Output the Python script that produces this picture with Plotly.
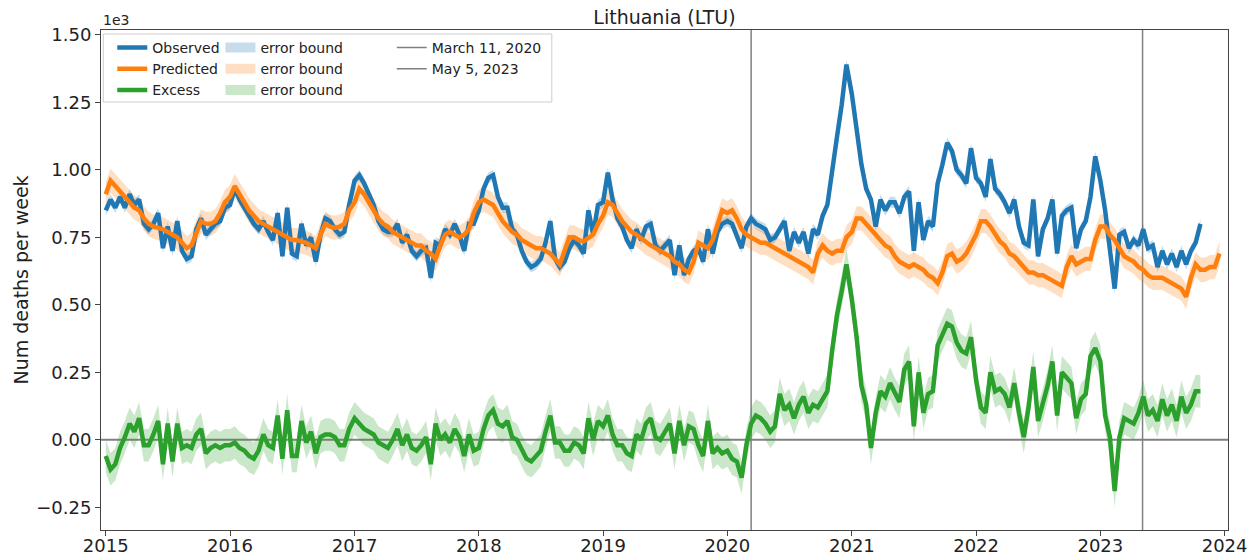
import pandas as pd
import plotly.graph_objects as go

# ---------------- data (deaths per week, in thousands) ----------------
YEARS = list(range(2015, 2024))
SAMPLES_PER_YEAR = 26          # one reading every two weeks
SAMPLE_STEP_DAYS = 14

observed = [
    0.85, 0.89, 0.86, 0.90, 0.86, 0.91, 0.87, 0.89, 0.80, 0.78, 0.80, 0.84, 0.71, 0.79, 0.70, 0.81, 0.70, 0.67, 0.68, 0.78, 0.82, 0.76, 0.78, 0.80, 0.81, 0.86,  # 2015
    0.87, 0.93, 0.89, 0.86, 0.83, 0.80, 0.78, 0.81, 0.77, 0.74, 0.84, 0.68, 0.86, 0.69, 0.68, 0.80, 0.72, 0.75, 0.66, 0.76, 0.82, 0.81, 0.78, 0.76, 0.77, 0.87,  # 2016
    0.96, 0.98, 0.95, 0.91, 0.87, 0.81, 0.78, 0.77, 0.77, 0.80, 0.73, 0.76, 0.70, 0.68, 0.70, 0.71, 0.60, 0.73, 0.72, 0.78, 0.76, 0.80, 0.76, 0.70, 0.80, 0.80,  # 2017
    0.85, 0.93, 0.97, 0.98, 0.90, 0.86, 0.86, 0.78, 0.76, 0.70, 0.66, 0.64, 0.65, 0.67, 0.73, 0.81, 0.67, 0.64, 0.66, 0.71, 0.74, 0.72, 0.69, 0.85, 0.76, 0.87,  # 2018
    0.88, 0.99, 0.89, 0.82, 0.79, 0.74, 0.71, 0.78, 0.74, 0.79, 0.80, 0.72, 0.70, 0.72, 0.74, 0.61, 0.72, 0.61, 0.67, 0.70, 0.71, 0.66, 0.78, 0.69, 0.77, 0.80,  # 2019
    0.81, 0.80, 0.76, 0.71, 0.79, 0.82, 0.80, 0.79, 0.78, 0.74, 0.75, 0.78, 0.81, 0.70, 0.77, 0.73, 0.77, 0.69, 0.78, 0.76, 0.83, 0.87, 1.01, 1.12, 1.24, 1.39,  # 2020
    1.28, 1.15, 1.02, 0.93, 0.89, 0.79, 0.89, 0.85, 0.88, 0.88, 0.84, 0.90, 0.92, 0.70, 0.88, 0.74, 0.81, 0.79, 0.95, 1.02, 1.10, 1.07, 1.00, 0.98, 0.95, 1.08,  # 2021
    0.97, 0.95, 0.90, 1.04, 0.93, 0.91, 0.88, 0.84, 0.89, 0.79, 0.73, 0.72, 0.89, 0.68, 0.78, 0.82, 0.89, 0.69, 0.83, 0.85, 0.86, 0.71, 0.78, 0.81, 0.90, 1.05,  # 2022
    0.96, 0.85, 0.72, 0.56, 0.76, 0.77, 0.71, 0.74, 0.72, 0.78, 0.71, 0.72, 0.64, 0.70, 0.65, 0.69, 0.64, 0.70, 0.65, 0.70, 0.73, 0.80, None, None, None, None,  # 2023
]

predicted = [
    0.91, 0.96, 0.94, 0.92, 0.90, 0.88, 0.86, 0.85, 0.82, 0.80, 0.79, 0.785, 0.78, 0.77, 0.76, 0.75, 0.73, 0.71, 0.72, 0.77, 0.81, 0.80, 0.80, 0.81, 0.84, 0.88,  # 2015
    0.90, 0.94, 0.91, 0.88, 0.85, 0.83, 0.81, 0.80, 0.79, 0.78, 0.77, 0.76, 0.75, 0.74, 0.74, 0.735, 0.73, 0.72, 0.71, 0.76, 0.80, 0.79, 0.785, 0.79, 0.80, 0.85,  # 2016
    0.88, 0.93, 0.91, 0.88, 0.85, 0.82, 0.80, 0.79, 0.77, 0.76, 0.75, 0.74, 0.73, 0.72, 0.72, 0.70, 0.69, 0.67, 0.72, 0.76, 0.77, 0.76, 0.75, 0.76, 0.78, 0.84,  # 2017
    0.88, 0.89, 0.88, 0.87, 0.84, 0.81, 0.79, 0.77, 0.76, 0.74, 0.73, 0.72, 0.71, 0.71, 0.70, 0.69, 0.67, 0.65, 0.70, 0.75, 0.75, 0.74, 0.735, 0.75, 0.76, 0.80,  # 2018
    0.83, 0.88, 0.87, 0.84, 0.81, 0.79, 0.77, 0.76, 0.745, 0.73, 0.72, 0.71, 0.70, 0.69, 0.68, 0.66, 0.65, 0.63, 0.62, 0.66, 0.73, 0.72, 0.71, 0.74, 0.80, 0.85,  # 2019
    0.84, 0.85, 0.82, 0.78, 0.76, 0.75, 0.74, 0.73, 0.73, 0.72, 0.71, 0.70, 0.69, 0.68, 0.67, 0.66, 0.65, 0.64, 0.62, 0.69, 0.72, 0.70, 0.69, 0.70, 0.70, 0.75,  # 2020
    0.77, 0.82, 0.82, 0.80, 0.78, 0.76, 0.74, 0.72, 0.71, 0.68, 0.66, 0.65, 0.64, 0.65, 0.64, 0.63, 0.61, 0.60, 0.58, 0.62, 0.68, 0.69, 0.66, 0.67, 0.69, 0.72,  # 2021
    0.76, 0.81, 0.81, 0.79, 0.76, 0.735, 0.72, 0.69, 0.68, 0.66, 0.64, 0.62, 0.62, 0.61, 0.61, 0.60, 0.59, 0.58, 0.57, 0.64, 0.68, 0.65, 0.66, 0.67, 0.67, 0.74,  # 2022
    0.79, 0.79, 0.76, 0.74, 0.71, 0.68, 0.67, 0.66, 0.64, 0.63, 0.61, 0.60, 0.60, 0.60, 0.59, 0.58, 0.57, 0.56, 0.53, 0.60, 0.65, 0.63, 0.63, 0.64, 0.64, 0.69,  # 2023
]

excess = [
    -0.06, -0.11, -0.09, -0.03, 0.01, 0.06, 0.03, 0.08, -0.02, -0.02, 0.02, 0.07, -0.09, 0.06, -0.08, 0.06, -0.03, -0.02, -0.03, 0.02, 0.04, -0.05, -0.03, -0.02, -0.03, -0.02,  # 2015
    -0.02, -0.01, -0.03, -0.04, -0.06, -0.07, -0.04, 0.02, -0.02, -0.03, 0.09, -0.07, 0.11, -0.06, -0.06, 0.07, -0.01, 0.03, -0.05, 0.01, 0.02, 0.02, 0.01, -0.02, -0.02, 0.04,  # 2016
    0.08, 0.06, 0.04, 0.03, 0.02, -0.01, -0.02, -0.03, 0.00, 0.04, -0.02, 0.02, -0.03, -0.04, -0.02, 0.01, -0.09, 0.06, 0.00, 0.02, -0.01, 0.04, 0.01, -0.06, 0.02, -0.04,  # 2017
    -0.03, 0.04, 0.09, 0.11, 0.06, 0.05, 0.07, 0.01, 0.00, -0.04, -0.07, -0.08, -0.06, -0.04, 0.03, 0.09, -0.01, -0.01, -0.04, -0.04, -0.01, -0.02, -0.05, 0.08, 0.00, 0.07,  # 2018
    0.05, 0.09, 0.02, -0.02, -0.02, -0.05, -0.06, 0.02, 0.00, 0.06, 0.08, 0.01, 0.00, 0.03, 0.06, -0.05, 0.07, -0.02, 0.05, 0.04, -0.02, -0.06, 0.07, -0.05, -0.03, -0.05,  # 2019
    -0.04, -0.07, -0.08, -0.14, -0.02, 0.06, 0.09, 0.08, 0.06, 0.03, 0.05, 0.17, 0.11, 0.13, 0.08, 0.13, 0.16, 0.10, 0.13, 0.12, 0.15, 0.18, 0.33, 0.46, 0.55, 0.65,  # 2020
    0.52, 0.38, 0.20, 0.13, -0.03, 0.10, 0.18, 0.16, 0.21, 0.17, 0.14, 0.26, 0.29, 0.05, 0.25, 0.10, 0.17, 0.18, 0.35, 0.39, 0.43, 0.42, 0.36, 0.33, 0.32, 0.38,  # 2021
    0.22, 0.12, 0.10, 0.25, 0.18, 0.19, 0.17, 0.12, 0.21, 0.10, 0.01, 0.12, 0.27, 0.07, 0.13, 0.20, 0.29, 0.09, 0.25, 0.23, 0.21, 0.08, 0.15, 0.17, 0.31, 0.34,  # 2022
    0.29, 0.09, 0.01, -0.19, 0.01, 0.08, 0.07, 0.06, 0.10, 0.16, 0.09, 0.11, 0.07, 0.15, 0.09, 0.13, 0.07, 0.16, 0.10, 0.13, 0.18, 0.18, None, None, None, None,  # 2023
]

# half-widths of the shaded error bounds (thousands)
OBSERVED_ERR = 0.02
PREDICTED_ERR = 0.045
EXCESS_ERR = 0.06

PANDEMIC_START = "2020-03-11"
PANDEMIC_END = "2023-05-05"
Y_TICKS = [-0.25, 0.0, 0.25, 0.5, 0.75, 1.0, 1.25, 1.5]

# ---------------- figure ----------------
dates = [pd.Timestamp(year=y, month=1, day=1) + pd.Timedelta(days=SAMPLE_STEP_DAYS * i)
         for y in YEARS for i in range(SAMPLES_PER_YEAR)]

C_OBS, C_PRED, C_EXC = "#1f77b4", "#ff7f0e", "#2ca02c"
F_OBS, F_PRED, F_EXC = "rgba(31,119,180,0.25)", "rgba(255,127,14,0.25)", "rgba(44,160,44,0.25)"
GRAY = "#808080"

fig = go.Figure()


def series(values):
    return pd.Series(values, index=dates, dtype="float").dropna()


def add_band(values, err, fill):
    s = series(values)
    fig.add_trace(go.Scatter(x=s.index, y=s.values - err, mode="lines", line=dict(width=0),
                             showlegend=False, hoverinfo="skip"))
    fig.add_trace(go.Scatter(x=s.index, y=s.values + err, mode="lines", line=dict(width=0),
                             fill="tonexty", fillcolor=fill, showlegend=False, hoverinfo="skip"))


add_band(observed, OBSERVED_ERR, F_OBS)
add_band(predicted, PREDICTED_ERR, F_PRED)
add_band(excess, EXCESS_ERR, F_EXC)

for name, vals, col in [("Observed", observed, C_OBS), ("Predicted", predicted, C_PRED), ("Excess", excess, C_EXC)]:
    s = series(vals)
    fig.add_trace(go.Scatter(x=s.index, y=s.values, mode="lines", name=name,
                             line=dict(color=col, width=4.5), legend="legend"))

# legend-only entries for the error bounds and the date markers
for fill in [F_OBS, F_PRED, F_EXC]:
    fig.add_trace(go.Scatter(x=[None], y=[None], mode="lines", name="error bound",
                             line=dict(color=fill, width=13), legend="legend2"))
for label in ["March 11, 2020", "May 5, 2023"]:
    fig.add_trace(go.Scatter(x=[None], y=[None], mode="lines", name=label,
                             line=dict(color=GRAY, width=1.5), legend="legend3"))

for d in [PANDEMIC_START, PANDEMIC_END]:
    fig.add_shape(type="line", xref="x", yref="paper", x0=d, x1=d, y0=0, y1=1,
                  line=dict(color=GRAY, width=1.5), layer="below")
fig.add_shape(type="line", xref="paper", yref="y", x0=0, x1=1, y0=0, y1=0,
              line=dict(color=GRAY, width=2), layer="below")

# legend frame
fig.add_shape(type="rect", xref="paper", yref="paper", x0=0.002, x1=0.40, y0=0.856, y1=0.992,
              line=dict(color="#cccccc", width=1), fillcolor="rgba(255,255,255,0.8)", layer="above")

leg_common = dict(bgcolor="rgba(0,0,0,0)", borderwidth=0, yanchor="top", y=0.996,
                  xanchor="left", font=dict(size=14, color="#222222"), tracegroupgap=0,
                  traceorder="normal")
fig.update_layout(
    legend=dict(x=0.010, **leg_common),
    legend2=dict(x=0.106, **leg_common),
    legend3=dict(x=0.258, **leg_common),
)

axis_common = dict(showline=True, mirror=True, linecolor="#444444", linewidth=1,
                   ticks="outside", ticklen=5, tickcolor="#444444", showgrid=False,
                   zeroline=False, tickfont=dict(size=18, color="#222222"), automargin=False)

fig.update_layout(
    width=1259, height=560,
    margin=dict(l=101, r=31, t=30, b=30),
    plot_bgcolor="white", paper_bgcolor="white",
    font=dict(family="DejaVu Sans", size=18, color="#222222"),
    title=dict(text="Lithuania (LTU)", x=0.5, xref="paper", xanchor="center",
               y=1 - 17 / 560, yref="container", yanchor="middle",
               font=dict(size=19, color="#222222")),
    xaxis=dict(type="date", range=["2014-12-18", "2024-01-11"], tick0="2015-01-01",
               dtick="M12", tickformat="%Y", ticklabelstandoff=-6, **axis_common),
    yaxis=dict(range=[-0.334, 1.518], tickvals=Y_TICKS, tickformat=".2f",
               title=dict(text="Num deaths per week", font=dict(size=19, color="#222222"), standoff=2),
               **axis_common),
    showlegend=True,
)

fig.add_annotation(text="1e3", xref="paper", yref="paper", x=0, y=1, xanchor="left",
                   yanchor="bottom", showarrow=False, font=dict(size=14, color="#222222"), yshift=0)

fig.write_html("out.html", config={"displayModeBar": False},
               post_script="document.body.style.margin='0px';")
